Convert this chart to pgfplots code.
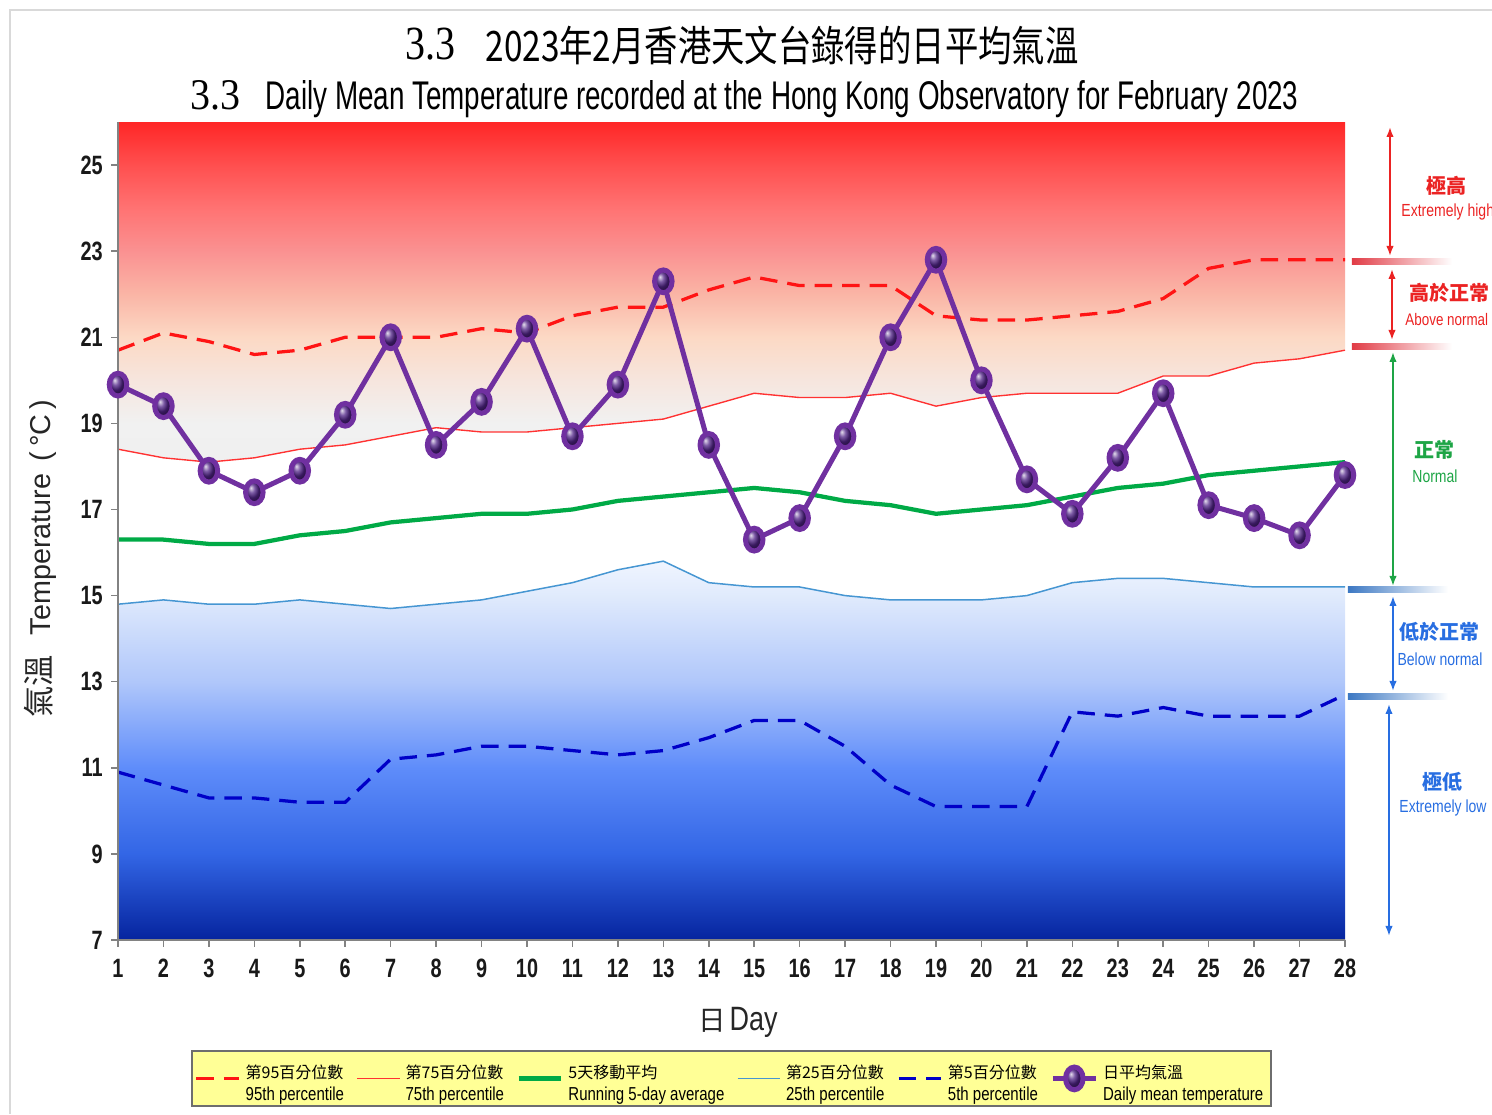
\documentclass[border=0pt]{standalone}
\usepackage{fontspec}
\usepackage{pgfplots}
\pgfplotsset{compat=1.18}
\usetikzlibrary{arrows.meta}
\setmainfont{Liberation Sans}
\newfontfamily\narrow[FakeStretch=0.8]{Liberation Sans}
\newfontfamily\tickfam[FakeStretch=0.75]{Liberation Sans}
\newfontfamily\cjk{Noto Sans CJK TC}
\newfontfamily\serif{Liberation Serif}
\newcommand\tickfont{\tickfam\bfseries\fontsize{10.6}{12}\selectfont}
\newcommand\legfont{\narrow\fontsize{7.5}{8.5}\selectfont}
\newcommand\lgcjk{\cjk\fontsize{6.4}{7}\selectfont}
\definecolor{axgray}{RGB}{130,130,130}
\definecolor{pred}{RGB}{255,20,20}
\definecolor{pred2}{RGB}{255,50,50}
\definecolor{pgreen}{RGB}{0,170,70}
\definecolor{plblue}{RGB}{70,150,210}
\definecolor{pdblue}{RGB}{0,0,200}
\definecolor{mpurple}{RGB}{112,48,160}
\definecolor{mball}{RGB}{80,35,135}
\definecolor{legyellow}{RGB}{255,255,150}
\definecolor{leggray}{RGB}{110,110,110}
\definecolor{annred}{RGB}{235,35,35}
\definecolor{anngreen}{RGB}{30,165,70}
\definecolor{annblue}{RGB}{40,110,225}
\definecolor{barred}{RGB}{225,60,70}
\definecolor{barblue}{RGB}{60,120,195}
\pgfdeclareverticalshading{redband}{100bp}{rgb(0bp)=(0.94,0.94,0.94); rgb(25bp)=(0.94,0.94,0.94); rgb(30.7bp)=(0.945,0.945,0.945); rgb(37bp)=(0.965,0.90,0.87); rgb(43.4bp)=(0.988,0.85,0.77); rgb(49.7bp)=(0.98,0.71,0.65); rgb(56bp)=(0.98,0.57,0.57); rgb(62.3bp)=(1,0.45,0.45); rgb(68.7bp)=(1,0.31,0.31); rgb(75bp)=(1,0.15,0.15); rgb(100bp)=(1,0.15,0.15)}
\pgfdeclareverticalshading{blueband}{100bp}{rgb(0bp)=(0.02,0.14,0.62); rgb(25bp)=(0.02,0.14,0.62); rgb(36.4bp)=(0.2,0.4,0.9); rgb(47.7bp)=(0.37,0.55,0.98); rgb(59.1bp)=(0.69,0.78,0.98); rgb(70.5bp)=(0.88,0.92,0.99); rgb(75bp)=(0.94,0.96,1); rgb(100bp)=(0.94,0.96,1)}

\pgfplotstableread{
day p95 p75 avg p25 p5 mean
1 20.7 18.4 16.3 14.8 10.9 19.9
2 21.1 18.2 16.3 14.9 10.6 19.4
3 20.9 18.1 16.2 14.8 10.3 17.9
4 20.6 18.2 16.2 14.8 10.3 17.4
5 20.7 18.4 16.4 14.9 10.2 17.9
6 21.0 18.5 16.5 14.8 10.2 19.2
7 21.0 18.7 16.7 14.7 11.2 21.0
8 21.0 18.9 16.8 14.8 11.3 18.5
9 21.2 18.8 16.9 14.9 11.5 19.5
10 21.1 18.8 16.9 15.1 11.5 21.2
11 21.5 18.9 17.0 15.3 11.4 18.7
12 21.7 19.0 17.2 15.6 11.3 19.9
13 21.7 19.1 17.3 15.8 11.4 22.3
14 22.1 19.4 17.4 15.3 11.7 18.5
15 22.4 19.7 17.5 15.2 12.1 16.3
16 22.2 19.6 17.4 15.2 12.1 16.8
17 22.2 19.6 17.2 15.0 11.5 18.7
18 22.2 19.7 17.1 14.9 10.6 21.0
19 21.5 19.4 16.9 14.9 10.1 22.8
20 21.4 19.6 17.0 14.9 10.1 20.0
21 21.4 19.7 17.1 15.0 10.1 17.7
22 21.5 19.7 17.3 15.3 12.3 16.9
23 21.6 19.7 17.5 15.4 12.2 18.2
24 21.9 20.1 17.6 15.4 12.4 19.7
25 22.6 20.1 17.8 15.3 12.2 17.1
26 22.8 20.4 17.9 15.2 12.2 16.8
27 22.8 20.5 18.0 15.2 12.2 16.4
28 22.8 20.7 18.1 15.2 12.7 17.8
}\datatable

\begin{document}
\begin{tikzpicture}
\useasboundingbox (0,0) rectangle (596.8pt,445.6pt);
% frame lines
\draw[black!15, line width=0.8pt] (4pt,0) -- (4pt,441.6pt) -- (596.8pt,441.6pt);
% titles
\node[anchor=base west, inner sep=0] at (162pt,421.6pt) {\resizebox{20pt}{12.6pt}{\serif 3.3}};
\node[anchor=base west, inner sep=0] at (194pt,421.0pt) {\resizebox{237.2pt}{14.2pt}{\cjk 2023年2月香港天文台錄得的日平均氣溫}};
\node[anchor=base west, inner sep=0] at (76pt,401.6pt) {\resizebox{20pt}{11.6pt}{\serif 3.3}};
\node[anchor=base west, inner sep=0] at (106pt,401.6pt) {\resizebox{413.2pt}{11.6pt}{Daily Mean Temperature recorded at the Hong Kong Observatory for February 2023}};
% y label
\node[rotate=90, inner sep=0, text=black!85] at (16pt,222pt) {{\cjk\fontsize{12.5}{13}\selectfont 氣溫}\hspace{8pt}{\fontsize{11.5}{12}\selectfont Temperature\hspace{5pt}(\,°C\,)}};
% x label
\node[inner sep=0, text=black!85] at (295.2pt,36.8pt) {{\cjk\fontsize{11}{12}\selectfont 日}\hspace{1.5pt}{\narrow\fontsize{13.5}{14}\selectfont Day}};

\begin{axis}[
  at={(47.2pt,69.6pt)}, anchor=south west,
  width=490.8pt, height=327.2pt, scale only axis,
  xmin=1, xmax=28, ymin=7, ymax=26,
  axis x line*=bottom, axis y line*=left,
  axis line style={draw=axgray, line width=0.8pt},
  xtick={1,...,28}, ytick={7,9,...,25},
  tick align=outside, major tick length=2.6pt,
  tick style={draw=axgray, line width=0.6pt},
  ticklabel style={font=\tickfont, text=black!90},
  xticklabel style={yshift=-1.5pt},
  /pgf/number format/assume math mode=true,
  axis on top, clip=false,
  legend columns=6,
  legend cell align=left,
  legend style={at={(0.5,-0.1345)}, anchor=north, fill=legyellow, draw=leggray,
    line width=0.8pt, font=\legfont, inner xsep=1pt, inner ysep=3.5pt,
    /tikz/every even column/.append style={column sep=3pt}},
]
% background bands
\addplot[draw=none, shading=redband, forget plot] coordinates {
(1,18.4)(2,18.2)(3,18.1)(4,18.2)(5,18.4)(6,18.5)(7,18.7)(8,18.9)(9,18.8)(10,18.8)
(11,18.9)(12,19.0)(13,19.1)(14,19.4)(15,19.7)(16,19.6)(17,19.6)(18,19.7)(19,19.4)(20,19.6)
(21,19.7)(22,19.7)(23,19.7)(24,20.1)(25,20.1)(26,20.4)(27,20.5)(28,20.7)(28,26)(1,26)};
\addplot[draw=none, shading=blueband, forget plot] coordinates {
(1,14.8)(2,14.9)(3,14.8)(4,14.8)(5,14.9)(6,14.8)(7,14.7)(8,14.8)(9,14.9)(10,15.1)
(11,15.3)(12,15.6)(13,15.8)(14,15.3)(15,15.2)(16,15.2)(17,15.0)(18,14.9)(19,14.9)(20,14.9)
(21,15.0)(22,15.3)(23,15.4)(24,15.4)(25,15.3)(26,15.2)(27,15.2)(28,15.2)(28,7)(1,7)};
% series
\addplot[pred, line width=1.3pt, dash pattern=on 7pt off 4pt] table[x=day,y=p95] {\datatable};
\addlegendentry{\raisebox{-5pt}{\shortstack[l]{{\lgcjk 第95百分位數}\\95th percentile}}}
\addplot[pred2, line width=0.55pt] table[x=day,y=p75] {\datatable};
\addlegendentry{\raisebox{-5pt}{\shortstack[l]{{\lgcjk 第75百分位數}\\75th percentile}}}
\addplot[pgreen, line width=1.7pt] table[x=day,y=avg] {\datatable};
\addlegendentry{\raisebox{-5pt}{\shortstack[l]{{\lgcjk 5天移動平均}\\Running 5-day average}}}
\addplot[plblue, line width=0.6pt] table[x=day,y=p25] {\datatable};
\addlegendentry{\raisebox{-5pt}{\shortstack[l]{{\lgcjk 第25百分位數}\\25th percentile}}}
\addplot[pdblue, line width=1.3pt, dash pattern=on 7pt off 4pt] table[x=day,y=p5] {\datatable};
\addlegendentry{\raisebox{-5pt}{\shortstack[l]{{\lgcjk 第5百分位數}\\5th percentile}}}
\addplot[mpurple, line width=2pt, mark=ball, mark size=3.5pt,
  mark options={ball color=mball, yscale=1.3}] table[x=day,y=mean] {\datatable};
\addlegendentry{\raisebox{-5pt}{\shortstack[l]{{\lgcjk 日平均氣溫}\\Daily mean temperature}}}
\end{axis}

% right-hand annotations
\begin{scope}[x=0.4pt, y=-0.4pt, yshift=445.6pt]
\shade[left color=barred, right color=white] (1352,259) rectangle (1452,265);
\shade[left color=barred, right color=white] (1352,344) rectangle (1452,350);
\shade[left color=barblue, right color=white] (1348,587) rectangle (1448,593);
\shade[left color=barblue, right color=white] (1348,694) rectangle (1448,700);
\draw[annred, line width=0.7pt, {Latex[length=4pt,width=3pt]}-{Latex[length=4pt,width=3pt]}] (1390,127) -- (1390,256);
\draw[annred, line width=0.7pt, {Latex[length=4pt,width=3pt]}-{Latex[length=4pt,width=3pt]}] (1392,269) -- (1392,340);
\draw[anngreen, line width=0.7pt, {Latex[length=4pt,width=3pt]}-{Latex[length=4pt,width=3pt]}] (1393,352) -- (1393,586);
\draw[annblue, line width=0.7pt, {Latex[length=4pt,width=3pt]}-{Latex[length=4pt,width=3pt]}] (1393,596) -- (1393,691);
\draw[annblue, line width=0.7pt, {Latex[length=4pt,width=3pt]}-{Latex[length=4pt,width=3pt]}] (1389,704) -- (1389,936);
\node[text=annred, font=\cjk\bfseries\fontsize{8}{9}\selectfont] at (1447,186) {極高};
\node[text=annred, font=\narrow\fontsize{7}{8}\selectfont, anchor=west, inner sep=0] at (1401,212) {Extremely high};
\node[text=annred, font=\cjk\bfseries\fontsize{8}{9}\selectfont] at (1450,293) {高於正常};
\node[text=annred, font=\narrow\fontsize{6.7}{8}\selectfont, anchor=west, inner sep=0] at (1405,320) {Above normal};
\node[text=anngreen, font=\cjk\bfseries\fontsize{8}{9}\selectfont] at (1435,450) {正常};
\node[text=anngreen, font=\narrow\fontsize{7}{8}\selectfont] at (1435,476) {Normal};
\node[text=annblue, font=\cjk\bfseries\fontsize{8}{9}\selectfont] at (1440,632) {低於正常};
\node[text=annblue, font=\narrow\fontsize{7}{8}\selectfont] at (1440,659) {Below normal};
\node[text=annblue, font=\cjk\bfseries\fontsize{8}{9}\selectfont] at (1443,782) {極低};
\node[text=annblue, font=\narrow\fontsize{7}{8}\selectfont] at (1443,808) {Extremely low};
\end{scope}
\end{tikzpicture}
\end{document}
